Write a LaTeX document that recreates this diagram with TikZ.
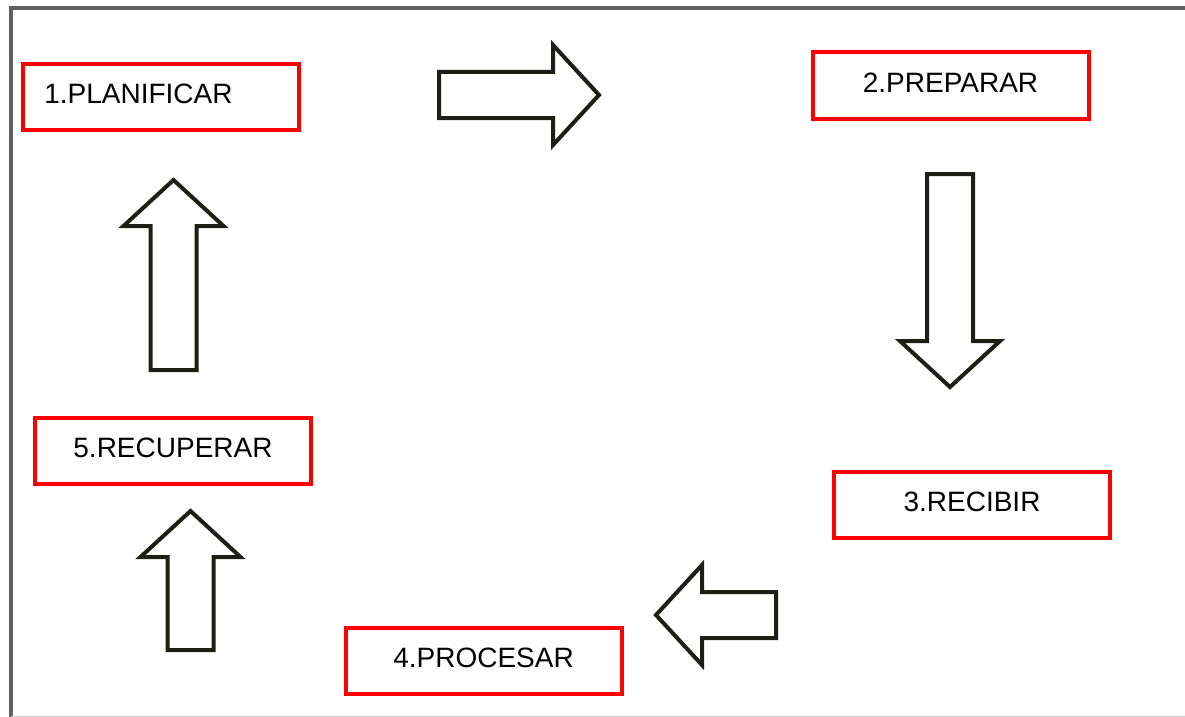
\documentclass[tikz,border=0pt]{standalone}
\usepackage{fontspec}
\setmainfont{Liberation Sans}
\usepackage{tikz}
\usepackage{xcolor}
\definecolor{bordegris}{RGB}{96,96,96}
\definecolor{trazo}{RGB}{30,30,20}

\begin{document}
\begin{tikzpicture}[x=0.75pt, y=-0.75pt,
  every node/.style={font=\fontsize{21}{25}\selectfont},
  caja/.style={draw=red, line width=3pt, minimum width=207pt, minimum height=49.5pt, text depth=4.5pt, inner sep=0pt},
  flecha/.style={draw=trazo, line width=3pt, line join=miter, fill=white},
  pics/bloque/.style={code={\draw[flecha] (0,-23) -- ({#1-46},-23) -- ({#1-46},-50) -- (#1,0) -- ({#1-46},50) -- ({#1-46},23) -- (0,23) -- cycle;}}]
\useasboundingbox (0,0) rectangle (1185,717);

% marco
\draw[bordegris, line width=3pt, line join=miter] (11,717) -- (11,8.5) -- (1185,8.5);
\draw[gray!35, line width=0.75pt] (11,716.5) -- (1185,716.5);

% etapas
\node[caja, text width=175pt, inner xsep=16pt, align=left] (planif) at (161,97) {1.PLANIFICAR};
\node[caja] (prep) at (950.5,85.5) {2.PREPARAR};
\node[caja] (recib) at (972,505) {3.RECIBIR};
\node[caja] (proc) at (483.5,660.5) {4.PROCESAR};
\node[caja] (recup) at (173,450.5) {5.RECUPERAR};

% flechas de bloque
\pic at (439,95) {bloque=160};
\pic[rotate=-90] at (950,174) {bloque=213};
\pic[rotate=180] at (776,615) {bloque=120};
\pic[rotate=90] at (190.5,650) {bloque=139};
\pic[rotate=90] at (173.5,370) {bloque=190};
\end{tikzpicture}
\end{document}
